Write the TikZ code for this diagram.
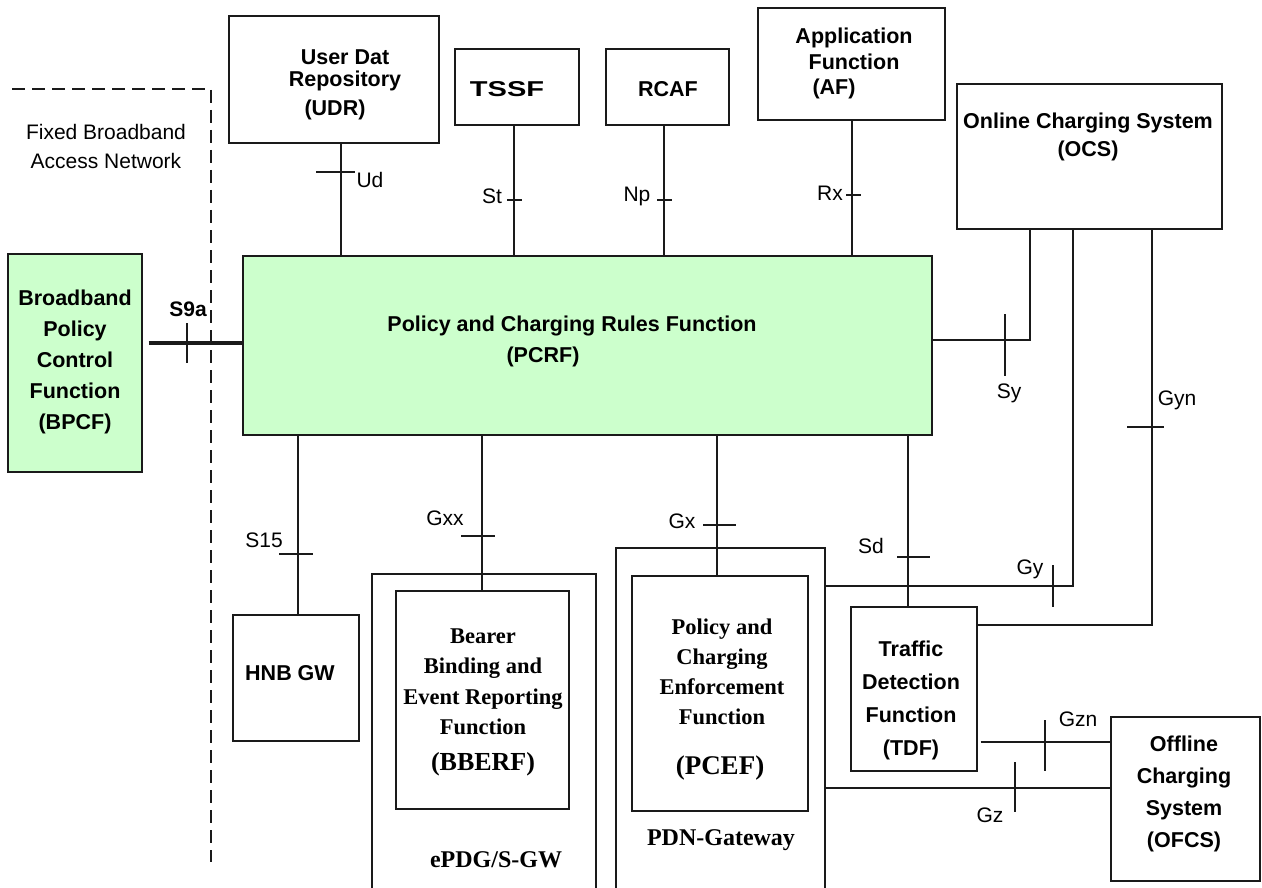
\documentclass[tikz,border=0pt]{standalone}
\usepackage{fontspec}
\setmainfont{Liberation Serif}
\setsansfont{Liberation Sans}
\definecolor{pgreen}{HTML}{CCFFCC}
\definecolor{lcol}{HTML}{1A1A1A}
\tikzset{
  box/.style={draw=lcol, line width=1.4pt, inner sep=0pt},
  gbox/.style={box, fill=pgreen},
  conn/.style={draw=lcol, line width=1.3pt},
  tick/.style={draw=lcol, line width=1.1pt},
  blab/.style={inner sep=0pt, align=center, font=\sffamily\bfseries\fontsize{21.5}{31}\selectfont},
  ilab/.style={inner sep=0pt, font=\sffamily\fontsize{21}{25}\selectfont},
  tlab/.style={inner sep=0pt, align=center, font=\rmfamily\bfseries\fontsize{22.5}{30.5}\selectfont},
}
\begin{document}
\begin{tikzpicture}[x=1pt,y=-1pt]
\useasboundingbox (0,0) rectangle (1262,888);
% boxes
\node[gbox, minimum width=134pt, minimum height=218pt] (bpcf) at (75,363) {};
\node[gbox, minimum width=689pt, minimum height=179pt] (pcrf) at (587.5,345.5) {};
\node[box, minimum width=210pt, minimum height=127pt] (udr) at (334,79.5) {};
\node[box, minimum width=124pt, minimum height=76pt] (tssf) at (517,87) {};
\node[box, minimum width=123pt, minimum height=76pt] (rcaf) at (667.5,87) {};
\node[box, minimum width=187pt, minimum height=112pt] (af) at (851.5,64) {};
\node[box, minimum width=265pt, minimum height=145pt] (ocs) at (1089.5,156.5) {};
\node[box, minimum width=126pt, minimum height=126pt] (hnb) at (296,678) {};
\node[box, minimum width=173pt, minimum height=218pt] (bberf) at (482.5,700) {};
\node[box, minimum width=176pt, minimum height=235pt] (pcef) at (720,693.5) {};
\node[box, minimum width=126pt, minimum height=164pt] (tdf) at (914,689) {};
\node[box, minimum width=149pt, minimum height=164pt] (ofcs) at (1185.5,799) {};
% open gateway frames (cut by the lower edge)
\draw[box] (372,895) -- (372,574) -- (596,574) -- (596,895);
\draw[box] (616,895) -- (616,548) -- (825,548) -- (825,895);
\coordinate (epdgR) at (596,574);
\coordinate (pdnR) at (825,548);
% dashed border
\draw[lcol, line width=1.4pt, dash pattern=on 13pt off 7pt] (12,89) -- (211,89) -- (211,862);
% texts
\node[ilab, align=center, font=\sffamily\fontsize{21}{29}\selectfont] (fban) at (106,146) {Fixed Broadband\\Access Network};
\node[blab] (tbpcf) at (75,362) {Broadband\\Policy\\Control\\Function\\(BPCF)};
\node[blab, font=\sffamily\bfseries\fontsize{21}{25}\selectfont] (ts9a) at (188,309) {S9a};
\node[blab, font=\sffamily\bfseries\fontsize{21.5}{22}\selectfont] (tudr1) at (345,70) {User Dat\\Repository};
\node[blab] (tudr2) at (335,110) {(UDR)};
\node[blab] (ttssf) at (507,89) {\scalebox{1.35}[1]{TSSF}};
\node[blab] (trcaf) at (668,89) {RCAF};
\node[blab, font=\sffamily\bfseries\fontsize{21.5}{26.5}\selectfont] (taf1) at (854,49) {Application\\Function};
\node[blab] (taf2) at (834,89) {(AF)};
\node[blab, font=\sffamily\bfseries\fontsize{21.5}{28}\selectfont] (tocs) at (1088,137) {Online Charging System\\(OCS)};
\node[blab] (tpcrf1) at (572,326) {Policy and Charging Rules Function};
\node[blab] (tpcrf2) at (543,357) {(PCRF)};
\node[blab] (thnb) at (290,673) {HNB GW};
\node[tlab] (tbberf1) at (483,682) {Bearer\\Binding and\\Event Reporting\\Function};
\node[tlab, font=\rmfamily\bfseries\fontsize{26}{30}\selectfont] (tbberf2) at (483,764) {(BBERF)};
\node[tlab, font=\rmfamily\bfseries\fontsize{22.5}{30}\selectfont] (tpcef1) at (722,672) {Policy and\\Charging\\Enforcement\\Function};
\node[tlab, font=\rmfamily\bfseries\fontsize{27}{30}\selectfont] (tpcef2) at (720,768) {(PCEF)};
\node[tlab, font=\rmfamily\bfseries\fontsize{24}{30}\selectfont] (tepdg) at (496,860) {ePDG/S-GW};
\node[tlab, font=\rmfamily\bfseries\fontsize{24}{30}\selectfont] (tpdn) at (721,840) {PDN-Gateway};
\node[blab, font=\sffamily\bfseries\fontsize{21.5}{33}\selectfont] (ttdf) at (911,700) {Traffic\\Detection\\Function\\(TDF)};
\node[blab, font=\sffamily\bfseries\fontsize{21.5}{32}\selectfont] (tofcs) at (1184,794) {Offline\\Charging\\System\\(OFCS)};
% interface labels
\node[ilab] (lud) at (370,180) {Ud};
\node[ilab] (lst) at (492,196) {St};
\node[ilab] (lnp) at (637,196) {Np};
\node[ilab] (lrx) at (830,193) {Rx};
\node[ilab] (lsy) at (1009,393) {Sy};
\node[ilab] (lgyn) at (1177,400) {Gyn};
\node[ilab] (lgy) at (1030,569) {Gy};
\node[ilab] (lgx) at (682,521) {Gx};
\node[ilab] (lsd) at (871,546) {Sd};
\node[ilab] (lgzn) at (1078,719) {Gzn};
\node[ilab] (lgz) at (990,815) {Gz};
\node[ilab] (ls15) at (264,540) {S15};
\node[ilab] (lgxx) at (445,518) {Gxx};
% connector routing coordinates
\coordinate (cs9a) at (0,343);
\coordinate (cud) at (341,0);
\coordinate (cst) at (514,0);
\coordinate (cnp) at (664,0);
\coordinate (crx) at (852,0);
\coordinate (csy) at (1030,340);
\coordinate (cgy) at (1073,586);
\coordinate (cgyn) at (1152,625);
\coordinate (cs15) at (298,0);
\coordinate (cgxx) at (482,0);
\coordinate (cgx) at (717,0);
\coordinate (csd) at (908,0);
\coordinate (cgzn) at (0,742);
\coordinate (cgz) at (0,788);
% connectors
\draw[conn, line width=4pt, shorten <=6pt] (bpcf.east |- cs9a) -- (pcrf.west |- cs9a);
\draw[conn] (udr.south -| cud) -- (pcrf.north -| cud);
\draw[conn] (tssf.south -| cst) -- (pcrf.north -| cst);
\draw[conn] (rcaf.south -| cnp) -- (pcrf.north -| cnp);
\draw[conn] (af.south -| crx) -- (pcrf.north -| crx);
\draw[conn] (pcrf.east |- csy) -- (csy) -- (ocs.south -| csy);
\draw[conn] (pdnR |- cgy) -- (cgy) -- (ocs.south -| cgy);
\draw[conn] (tdf.east |- cgyn) -- (cgyn) -- (ocs.south -| cgyn);
\draw[conn] (pcrf.south -| cs15) -- (hnb.north -| cs15);
\draw[conn] (pcrf.south -| cgxx) -- (bberf.north -| cgxx);
\draw[conn] (pcrf.south -| cgx) -- (pcef.north -| cgx);
\draw[conn] (pcrf.south -| csd) -- (tdf.north -| csd);
\draw[conn, shorten <=3pt] (tdf.east |- cgzn) -- (ofcs.west |- cgzn);
\draw[conn] (pdnR |- cgz) -- (ofcs.west |- cgz);
% ticks
\draw[tick] (187,323) -- (187,363);
\draw[tick] (316,172) -- (355,172);
\draw[tick] (507,200) -- (522,200);
\draw[tick] (657,200) -- (672,200);
\draw[tick] (846,195) -- (861,195);
\draw[tick] (1005,314) -- (1005,376);
\draw[tick] (1127,427) -- (1164,427);
\draw[tick] (1053,565) -- (1053,607);
\draw[tick] (279,554) -- (313,554);
\draw[tick] (461,536) -- (495,536);
\draw[tick] (703,525) -- (736,525);
\draw[tick] (897,557) -- (930,557);
\draw[tick] (1045,720) -- (1045,771);
\draw[tick] (1015,762) -- (1015,812);
\end{tikzpicture}
\end{document}
